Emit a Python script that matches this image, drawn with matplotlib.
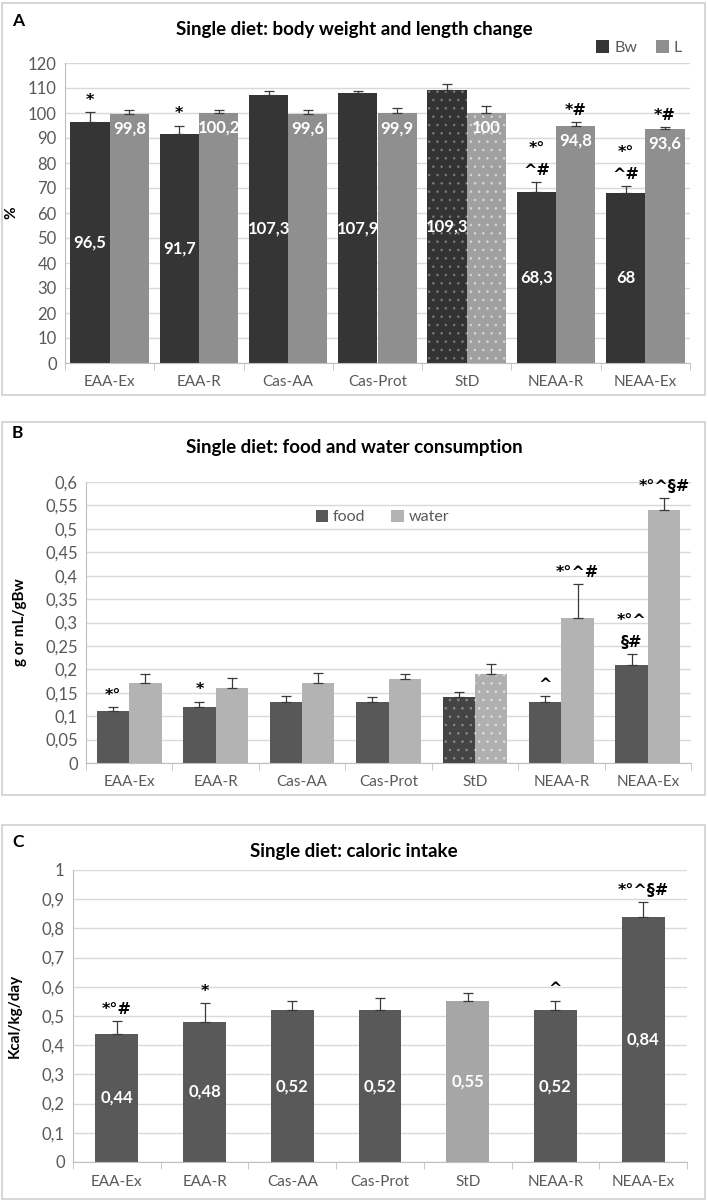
import matplotlib.pyplot as plt
import numpy as np
from matplotlib.patches import Rectangle
from matplotlib.ticker import FuncFormatter, MultipleLocator

plt.rcParams['font.family'] = ['Lato', 'DejaVu Sans']
plt.rcParams['hatch.linewidth'] = 0.6

diets = ['EAA-Ex', 'EAA-R', 'Cas-AA', 'Cas-Prot', 'StD', 'NEAA-R', 'NEAA-Ex']

# panel A: body weight (Bw) and length (L) change, %
bw = [96.5, 91.7, 107.3, 107.9, 109.3, 68.3, 68]
bw_err = [4.0, 3.3, 1.4, 1.1, 2.5, 4.1, 2.8]
length = [99.8, 100.2, 99.6, 99.9, 100, 94.8, 93.6]
length_err = [1.3, 1.2, 1.8, 2.1, 2.8, 1.6, 0.8]
bw_marks = ['*', '*', '', '', '', '*°\n^#', '*°\n^#']
length_marks = ['', '', '', '', '', '*#', '*#']

# panel B: food and water consumption
food = [0.11, 0.12, 0.13, 0.13, 0.14, 0.13, 0.21]
food_err = [0.01, 0.011, 0.012, 0.011, 0.011, 0.012, 0.022]
water = [0.17, 0.16, 0.17, 0.18, 0.19, 0.31, 0.54]
water_err = [0.021, 0.021, 0.022, 0.011, 0.021, 0.072, 0.026]
food_marks = ['*°', '*', '', '', '', '^', '*°^\n§#']
water_marks = ['', '', '', '', '', '*°^#', '*°^§#']

# panel C: caloric intake
kcal = [0.44, 0.48, 0.52, 0.52, 0.55, 0.52, 0.84]
kcal_err = [0.044, 0.063, 0.03, 0.04, 0.03, 0.033, 0.05]
kcal_marks = ['*°#', '*', '', '', '', '^', '*°^§#']

W, H = 708, 1202
GRID = '#d9d9d9'
TXT = '#595959'


def fx(px):
    return px / W


def fy(py):
    return 1 - py / H


def comma(v, pos=None):
    return f'{v:g}'.replace('.', ',')


def style_axes(ax, ymax, step, ylabel, label_x):
    ax.set_xlim(-0.5, 6.5)
    ax.set_ylim(0, ymax)
    ax.yaxis.set_major_locator(MultipleLocator(step))
    ax.yaxis.set_major_formatter(FuncFormatter(comma))
    ax.grid(axis='y', color=GRID, lw=1)
    ax.set_axisbelow(True)
    for s in ['top', 'right']:
        ax.spines[s].set_visible(False)
    for s in ['left', 'bottom']:
        ax.spines[s].set_color('#bfbfbf')
    ax.set_xticks(range(len(diets)))
    ax.set_xticklabels(diets)
    ax.set_xticks(np.arange(-0.5, 7, 1), minor=True)
    ax.tick_params(axis='x', which='major', length=0, pad=9, labelsize=11, labelcolor=TXT)
    ax.tick_params(axis='x', which='minor', length=5, color='#bfbfbf')
    ax.tick_params(axis='y', length=0, labelsize=12, labelcolor=TXT, pad=6)
    ax.set_ylabel(ylabel, fontweight='bold', fontsize=11)
    ax.yaxis.set_label_coords(label_x, 0.5)


def add_err(ax, x, vals, errs):
    ax.errorbar(x, vals, yerr=[np.zeros(len(errs)), errs], fmt='none', ecolor='#3a3a3a',
                elinewidth=0.9, capsize=3.5, capthick=0.9)


def add_marks(ax, x, vals, errs, marks, size=11.5):
    for xi, v, e, m in zip(x, vals, errs, marks):
        if m:
            ax.annotate(m, (xi, v + e), xytext=(0, 3), textcoords='offset points',
                        ha='center', va='bottom', fontsize=size, fontweight='bold',
                        family=['DejaVu Sans'], linespacing=1.6, annotation_clip=False)


def dot_bar(bar, face, dots):
    bar.set_facecolor(face)
    bar.set_edgecolor(dots)
    bar.set_linewidth(0)
    bar.set_hatch('..')


fig = plt.figure(figsize=(W / 100, H / 100), dpi=100)

# panel frames
for top, bottom in [(3, 395), (422, 795), (825, 1199)]:
    fig.patches.append(Rectangle((fx(2), fy(bottom)), fx(703), (bottom - top) / H,
                                 transform=fig.transFigure, fill=False,
                                 edgecolor='#d0d0d0', lw=1.2))

x = np.arange(len(diets))

# ---------- A ----------
axA = fig.add_axes([fx(65), fy(363), fx(625), 300 / H])
wA = 0.44
b1 = axA.bar(x - wA / 2, bw, wA, color='#353535', label='Bw')
b2 = axA.bar(x + wA / 2, length, wA, color='#8f8f8f', label='L')
dot_bar(b1[4], '#333333', '#7a7a7a')
dot_bar(b2[4], '#a0a0a0', '#d6d6d6')
add_err(axA, x - wA / 2, bw, bw_err)
add_err(axA, x + wA / 2, length, length_err)
add_marks(axA, x - wA / 2, bw, bw_err, bw_marks)
add_marks(axA, x + wA / 2, length, length_err, length_marks)
for xi, v in zip(x - wA / 2, bw):
    axA.text(xi, v / 2, comma(v), ha='center', va='center', color='white',
             fontsize=12, fontweight='bold')
for xi, v in zip(x + wA / 2, length):
    axA.annotate(comma(v), (xi, v), xytext=(0, -5), textcoords='offset points',
                 ha='center', va='top', color='white', fontsize=12, fontweight='bold')
style_axes(axA, 120, 10, '%', -0.075)
axA.legend(loc='lower right', bbox_to_anchor=(1.0, 1.0), ncol=2, frameon=False,
           fontsize=11.5, handlelength=0.8, handleheight=0.8, handletextpad=0.3,
           columnspacing=1.2, borderaxespad=0.1, labelcolor=TXT)

# ---------- B ----------
axB = fig.add_axes([fx(86), fy(763), fx(605), 281 / H])
wB = 0.375
f1 = axB.bar(x - wB / 2, food, wB, color='#585858', label='food')
f2 = axB.bar(x + wB / 2, water, wB, color='#b3b3b3', label='water')
dot_bar(f1[4], '#444444', '#8a8a8a')
dot_bar(f2[4], '#b0b0b0', '#dedede')
add_err(axB, x - wB / 2, food, food_err)
add_err(axB, x + wB / 2, water, water_err)
add_marks(axB, x - wB / 2, food, food_err, food_marks)
add_marks(axB, x + wB / 2, water, water_err, water_marks)
style_axes(axB, 0.6, 0.05, 'g or mL/gBw', -0.0975)
axB.legend(loc='center', bbox_to_anchor=(0.49, 0.875), ncol=2, frameon=False,
           fontsize=11.5, handlelength=0.8, handleheight=0.8, handletextpad=0.3,
           columnspacing=1.6, labelcolor=TXT)

# ---------- C ----------
axC = fig.add_axes([fx(73), fy(1162), fx(614), 292 / H])
wC = 0.49
c_colors = ['#a6a6a6' if d == 'StD' else '#595959' for d in diets]
axC.bar(x, kcal, wC, color=c_colors)
add_err(axC, x, kcal, kcal_err)
add_marks(axC, x, kcal, kcal_err, kcal_marks)
for xi, v in zip(x, kcal):
    axC.text(xi, v / 2, comma(v), ha='center', va='center', color='white',
             fontsize=12, fontweight='bold')
style_axes(axC, 1.0, 0.1, 'Kcal/kg/day', -0.083)

# titles and panel letters
fig.text(0.5, fy(30), 'Single diet: body weight and length change', ha='center',
         va='center', fontsize=13.5, fontweight='bold')
fig.text(0.5, fy(448), 'Single diet: food and water consumption', ha='center',
         va='center', fontsize=13.5, fontweight='bold')
fig.text(0.5, fy(852), 'Single diet: caloric intake', ha='center',
         va='center', fontsize=13.5, fontweight='bold')
for lab, py in [('A', 21), ('B', 433), ('C', 842)]:
    fig.text(fx(12), fy(py), lab, ha='left', va='center', fontsize=12.5, fontweight='bold')

fig.savefig('out.png', dpi=100)
